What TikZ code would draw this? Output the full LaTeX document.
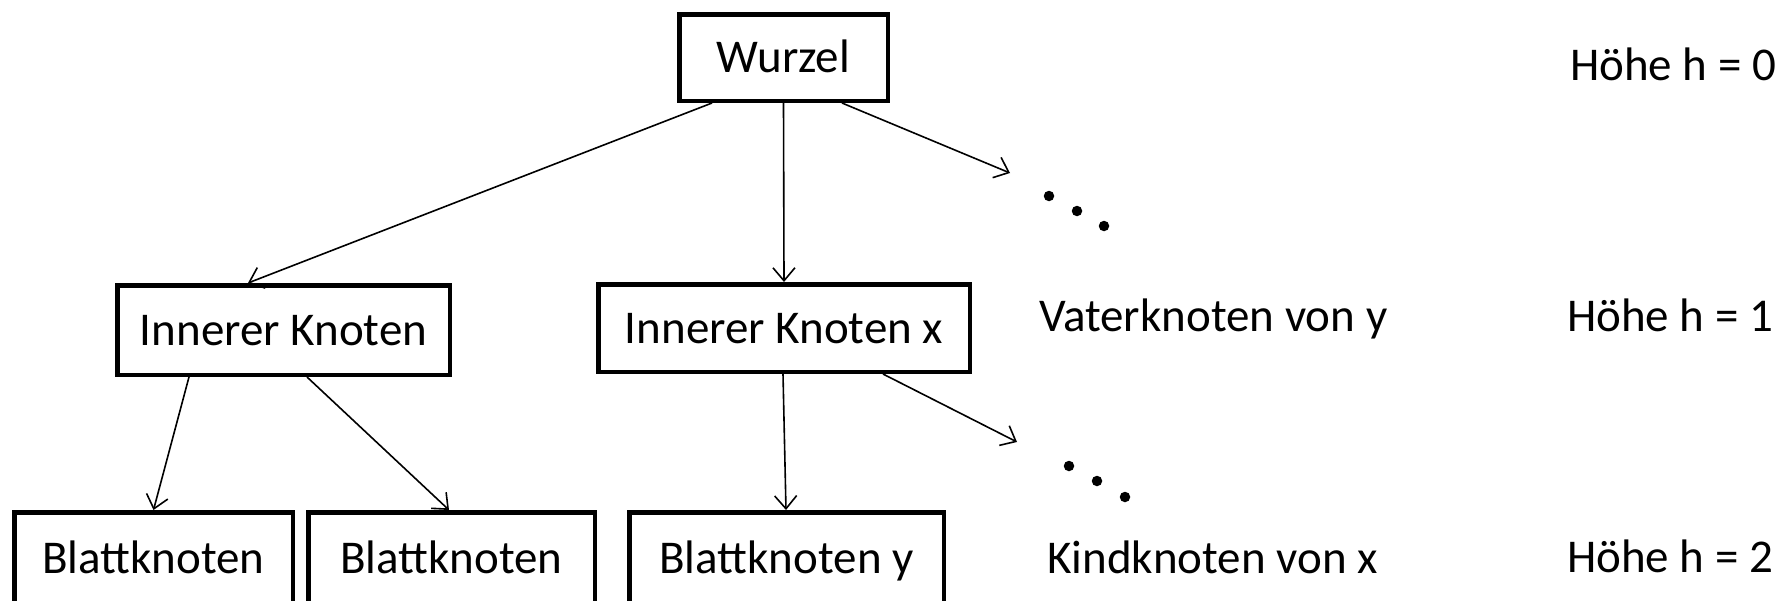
\documentclass[tikz,border=0pt]{standalone}
\usepackage{fontspec}
\setmainfont{Carlito}
\usetikzlibrary{arrows.meta}

\begin{document}
\begin{tikzpicture}[x=1pt,y=-1pt,
  treebox/.style={draw=black, line width=4.5pt, rectangle, inner sep=0pt,
    text height=30pt, text depth=0pt,
    font=\fontsize{47}{56}\selectfont},
  label/.style={inner sep=0pt, anchor=base west,
    font=\fontsize{47}{56}\selectfont},
  edge/.style={line width=1.6pt,
    -{Straight Barb[length=13pt,width=22pt,line width=1.6pt]}},
  dot/.style={fill=black, circle, inner sep=0pt, minimum size=10.5pt}]

\useasboundingbox (0,0) rectangle (1789,600);
\clip (0,0) rectangle (1789,600);

% tree nodes
\node[treebox, minimum width=208.5pt, minimum height=86.5pt] (wurzel) at (783.5,57.5) {Wurzel};
\node[treebox, minimum width=332.5pt, minimum height=89.5pt] (ik)  at (283.5,330) {Innerer Knoten};
\node[treebox, minimum width=371.5pt, minimum height=87.5pt] (ikx) at (784,328) {Innerer Knoten x};
\node[treebox, minimum width=278.5pt, minimum height=91.5pt] (bk1) at (153.5,558) {Blattknoten};
\node[treebox, minimum width=286.5pt, minimum height=91.5pt] (bk2) at (451.5,558) {Blattknoten};
\node[treebox, minimum width=314.5pt, minimum height=91.5pt] (bky) at (786.5,558) {Blattknoten y};

% open ends towards further children
\coordinate (more1) at (1010,173);
\coordinate (more2) at (1017,442);

% connectors
\draw[edge] ([xshift=-71.5pt]wurzel.south) -- ([xshift=-35.5pt]ik.north);
\draw[edge] (wurzel.south) -- (ikx.north);
\draw[edge] ([xshift=58.5pt]wurzel.south) -- (more1);
\draw[edge] ([xshift=-94.5pt]ik.south) -- (bk1.north);
\draw[edge] ([xshift=23.5pt]ik.south) -- ([xshift=-2.5pt]bk2.north);
\draw[edge] ([xshift=-1pt]ikx.south) -- ([xshift=-0.5pt]bky.north);
\draw[edge] ([xshift=99pt]ikx.south) -- (more2);

% ellipses
\node[dot] (d1a) at (1049,196) {};
\node[dot] (d1b) at (1077,211) {};
\node[dot] (d1c) at (1104,226) {};
\node[dot] (d2a) at (1069,466) {};
\node[dot] (d2b) at (1097,481) {};
\node[dot] (d2c) at (1125,497) {};

% side labels
\node[label] (vater) at (1039,331) {Vaterknoten von y};
\node[label] (kind)  at (1047,573) {Kindknoten von x};
\node[label] (h0) at (1570,80)  {Höhe h = 0};
\node[label] (h1) at (1567,331) {Höhe h = 1};
\node[label] (h2) at (1567,572) {Höhe h = 2};
\end{tikzpicture}
\end{document}
